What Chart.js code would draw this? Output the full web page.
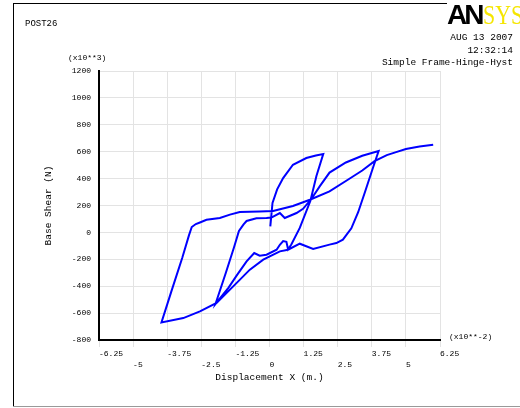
<!DOCTYPE html>
<html>
<head>
<meta charset="utf-8">
<script src="https://cdn.jsdelivr.net/npm/chart.js@4.4.0/dist/chart.umd.min.js"></script>
<style>
  html, body { margin: 0; padding: 0; background: #fff; }
  #wrap { position: relative; width: 520px; height: 408px; overflow: hidden; background: #fff; }
  #plot { position: absolute; left: 0; top: 0; }
  .txt { position: absolute; font-family: "Liberation Mono", monospace; color: #000; white-space: pre; }
  .line { position: absolute; }
</style>
</head>
<body>
<div id="wrap">
  <canvas id="plot" width="520" height="408"></canvas>
  <div class="line" style="left:13px; top:3px; width:434px; height:1px; background:#000;"></div>
  <div class="line" style="left:13px; top:3px; width:1px; height:404px; background:#000;"></div>
  <div class="line" style="left:13px; top:406px; width:507px; height:1px; background:#999;"></div>
  <div class="txt" style="left:25px; top:18px; font-size:9px; line-height:12px;">POST26</div>
  <div class="txt" style="right:7px; top:32px; font-size:9.5px; line-height:12px; text-align:right;">AUG 13 2007</div>
  <div class="txt" style="right:7px; top:45px; font-size:9.5px; line-height:12px; text-align:right;">12:32:14</div>
  <div class="txt" style="right:7px; top:57px; font-size:9.5px; line-height:12px; text-align:right;">Simple Frame-Hinge-Hyst</div>
  <div class="txt" style="left:68px; top:52px; font-size:8px; line-height:11px;">(x10**3)</div>
  <div class="txt" style="left:449px; top:331px; font-size:8px; line-height:11px;">(x10**-2)</div>
  <div style="position:absolute; left:447px; top:-1px; line-height:28px; white-space:nowrap;">
    <span style="font:bold 28px 'Liberation Sans', sans-serif; letter-spacing:-3px; color:#000;">AN</span><span style="display:inline-block; transform:scaleX(0.78); transform-origin:left; font:28px 'Liberation Serif', serif; color:#f5e600; margin-left:2px;">SYS</span>
  </div>
</div>
<script>
// displacement in x10**-2 m, base shear in x10**3 N
var loadDisp = [0.03, 0.11, 0.28, 0.5, 0.86, 1.35, 1.7, 1.97];
var loadShear = [45, 219, 320, 404, 503, 553, 572, 583];

var unload1Disp = [1.97, 1.72, 1.5, 1.11, 0.8, 0.68, 0.62, 0.5, 0.38, 0.26, -0.11, -0.36, -0.56, -0.84, -1.2, -1.5, -1.98];
var unload1Shear = [583, 420, 235, 33, -90, -125, -70, -65, -92, -129, -166, -173, -153, -216, -320, -410, -532];

var reload1Disp = [-1.98, -1.6, -1.3, -1.12, -0.95, -0.84, -0.48, -0.11, 0.07, 0.38, 0.56, 0.99, 1.23, 1.54, 1.84, 2.2, 2.8, 3.4, 4.0];
var reload1Shear = [-532, -300, -110, 10, 60, 85, 105, 107, 110, 144, 107, 144, 175, 250, 342, 445, 520, 570, 605];

var unload2Disp = [4.0, 3.79, 3.5, 3.25, 3.0, 2.69, 2.45, 2.2, 1.6, 1.11, 0.68, 0.38, -0.23, -0.72, -1.33, -1.94, -2.55, -3.16, -3.96];
var unload2Shear = [605, 479, 300, 150, 30, -54, -79, -91, -123, -84, -129, -141, -203, -277, -401, -525, -587, -637, -669];

var reload2Disp = [-3.96, -3.6, -3.2, -2.95, -2.85, -2.7, -2.55, -2.31, -1.82, -1.45, -1.09, -0.36, 0.13, 0.86, 1.48, 2.2, 2.9, 3.4, 3.85, 4.3, 4.64, 5.0, 5.5, 6.0];
var reload2Shear = [-669, -440, -190, -20, 40, 62, 74, 94, 107, 132, 152, 156, 160, 196, 243, 305, 395, 460, 530, 575, 597, 620, 638, 652];

var xTickLabels = ['-6.25', '-5', '-3.75', '-2.5', '-1.25', '0', '1.25', '2.5', '3.75', '5', '6.25'];

var branches = [
  [loadDisp, loadShear],
  [unload1Disp, unload1Shear],
  [reload1Disp, reload1Shear],
  [unload2Disp, unload2Shear],
  [reload2Disp, reload2Shear]
];

var points = [];
branches.forEach(function(b, i) {
  b[0].forEach(function(x, j) {
    if (i > 0 && j === 0) return; // shared with end of previous branch
    points.push({ x: x, y: b[1][j] });
  });
});

Chart.defaults.font.family = '"Liberation Mono", monospace';
Chart.defaults.color = '#000';

var ctx = document.getElementById('plot').getContext('2d');
var myChart = new Chart(ctx, {
  type: 'scatter',
  data: {
    datasets: [{
      label: 'Base Shear',
      data: points,
      showLine: true,
      borderColor: 'rgb(0, 0, 255)',
      backgroundColor: 'rgb(0, 0, 255)',
      borderWidth: 2,
      pointRadius: 0,
      tension: 0
    }]
  },
  options: {
    responsive: false,
    animation: false,
    devicePixelRatio: 1,
    layout: { padding: { left: 0, top: 71, right: 80, bottom: 0 } },
    plugins: {
      legend: { display: false },
      tooltip: { enabled: false }
    },
    scales: {
      x: {
        type: 'linear',
        min: -6.25,
        max: 6.25,
        afterFit: function(scale) { scale.height = 68; },
        grid: { color: '#e3e3e3', lineWidth: 1, drawTicks: true, tickLength: 7, tickColor: '#e3e3e3' },
        border: { color: '#000', width: 2 },
        ticks: {
          stepSize: 1.25,
          autoSkip: false,
          maxRotation: 0,
          align: 'start',
          padding: 2,
          font: { size: 8, lineHeight: 1.3 },
          callback: function(value, index) {
            var s = xTickLabels[index];
            return index % 2 === 0 ? [s, ''] : ['', s];
          }
        },
        title: {
          display: true,
          text: 'Displacement X (m.)',
          font: { size: 9.5 },
          padding: { top: 0, bottom: 25 }
        }
      },
      y: {
        type: 'linear',
        min: -800,
        max: 1200,
        afterFit: function(scale) { scale.width = 99; },
        grid: { color: '#e3e3e3', lineWidth: 1, drawTicks: false },
        border: { color: '#000', width: 2 },
        ticks: {
          stepSize: 200,
          padding: 8,
          font: { size: 8 },
          callback: function(value) { return String(value); }
        },
        title: {
          display: true,
          text: 'Base Shear (N)',
          font: { size: 9.5 },
          padding: { top: 43, bottom: 0 }
        }
      }
    }
  }
});
</script>
</body>
</html>
